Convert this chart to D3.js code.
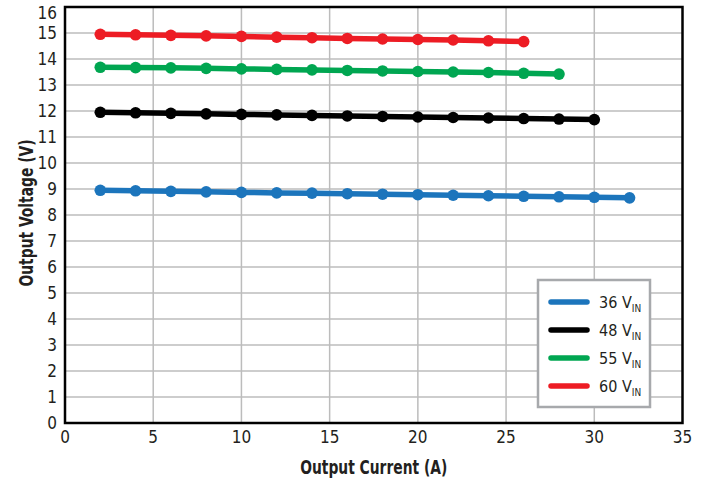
<!DOCTYPE html>
<html>
<head>
<meta charset="utf-8">
<script src="https://cdn.jsdelivr.net/npm/d3@7"></script>
<style>
  html, body { margin: 0; padding: 0; background: #fff; }
  svg text { font-family: "Liberation Sans Narrow", "DejaVu Sans Condensed", sans-serif; fill: #231f20; }
</style>
</head>
<body>
<div id="chart"></div>
<script>
// data
const current36 = [2, 4, 6, 8, 10, 12, 14, 16, 18, 20, 22, 24, 26, 28, 30, 32];
const volt36 = [8.95, 8.93, 8.91, 8.89, 8.87, 8.85, 8.84, 8.82, 8.80, 8.78, 8.76, 8.74, 8.72, 8.70, 8.68, 8.66];
const current48 = [2, 4, 6, 8, 10, 12, 14, 16, 18, 20, 22, 24, 26, 28, 30];
const volt48 = [11.95, 11.93, 11.91, 11.89, 11.87, 11.85, 11.83, 11.81, 11.79, 11.77, 11.75, 11.73, 11.71, 11.69, 11.67];
const current55 = [2, 4, 6, 8, 10, 12, 14, 16, 18, 20, 22, 24, 26, 28];
const volt55 = [13.68, 13.67, 13.66, 13.64, 13.62, 13.60, 13.58, 13.56, 13.54, 13.52, 13.50, 13.48, 13.45, 13.42];
const current60 = [2, 4, 6, 8, 10, 12, 14, 16, 18, 20, 22, 24, 26];
const volt60 = [14.95, 14.93, 14.91, 14.89, 14.87, 14.84, 14.82, 14.79, 14.77, 14.75, 14.73, 14.70, 14.67];

const seriesNames = ["36", "48", "55", "60"];
const colors = ["#1c75bc", "#000000", "#00a651", "#ed1c24"];
const xTicks = [0, 5, 10, 15, 20, 25, 30, 35];
const yTicks = d3.range(0, 17);

const series = [
  { name: seriesNames[0], xs: current36, ys: volt36 },
  { name: seriesNames[1], xs: current48, ys: volt48 },
  { name: seriesNames[2], xs: current55, ys: volt55 },
  { name: seriesNames[3], xs: current60, ys: volt60 }
];

const width = 702, height = 478;
const margin = { left: 65, right: 20, top: 7, bottom: 55 };

const svg = d3.select("#chart").append("svg")
  .attr("width", width)
  .attr("height", height);

const x = d3.scaleLinear().domain([0, 35]).range([margin.left, width - margin.right + 0.5]);
const y = d3.scaleLinear().domain([0, 16]).range([height - margin.bottom, margin.top]);

// grid
const grid = svg.append("g").attr("stroke", "#bcbcbc").attr("stroke-width", 1.5);
grid.selectAll(".gx").data(xTicks.slice(1, -1)).enter().append("line")
  .attr("x1", d => x(d)).attr("x2", d => x(d))
  .attr("y1", y(0)).attr("y2", y(16));
grid.selectAll(".gy").data(yTicks.slice(1, -1)).enter().append("line")
  .attr("x1", x(0)).attr("x2", x(35))
  .attr("y1", d => y(d)).attr("y2", d => y(d));

// frame
svg.append("rect")
  .attr("x", x(0)).attr("y", y(16))
  .attr("width", x(35) - x(0)).attr("height", y(0) - y(16))
  .attr("fill", "none").attr("stroke", "#000").attr("stroke-width", 2.5);

// tick labels (top one pushed down so it isn't clipped)
svg.append("g").selectAll("text").data(yTicks).enter().append("text")
  .attr("x", x(0) - 8)
  .attr("y", d => Math.max(y(d) + 6, 19))
  .attr("text-anchor", "end")
  .style("font-size", "17px")
  .text(d => d);

svg.append("g").selectAll("text").data(xTicks).enter().append("text")
  .attr("x", d => x(d))
  .attr("y", y(0) + 20)
  .attr("text-anchor", "middle")
  .style("font-size", "17px")
  .text(d => d);

// axis titles
svg.append("text")
  .attr("x", (x(0) + x(35)) / 2)
  .attr("y", 474)
  .attr("text-anchor", "middle")
  .attr("textLength", 147)
  .attr("lengthAdjust", "spacingAndGlyphs")
  .style("font-size", "20px")
  .style("font-weight", "bold")
  .text("Output Current (A)");

svg.append("text")
  .attr("transform", `translate(33, ${(y(0) + y(16)) / 2 - 2}) rotate(-90)`)
  .attr("text-anchor", "middle")
  .attr("textLength", 147)
  .attr("lengthAdjust", "spacingAndGlyphs")
  .style("font-size", "20px")
  .style("font-weight", "bold")
  .text("Output Voltage (V)");

// lines + markers
const line = d3.line().x(d => x(d[0])).y(d => y(d[1]));

series.forEach((s, i) => {
  const pts = s.xs.map((v, j) => [v, s.ys[j]]);
  const g = svg.append("g");
  g.append("path")
    .datum(pts)
    .attr("d", line)
    .attr("fill", "none")
    .attr("stroke", colors[i])
    .attr("stroke-width", 5.5)
    .attr("stroke-linejoin", "round");
  g.selectAll("circle").data(pts).enter().append("circle")
    .attr("cx", d => x(d[0]))
    .attr("cy", d => y(d[1]))
    .attr("r", 5.8)
    .attr("fill", colors[i]);
});

// legend
const legend = svg.append("g");
legend.append("rect")
  .attr("x", 538).attr("y", 280)
  .attr("width", 112).attr("height", 127)
  .attr("fill", "#fff")
  .attr("stroke", "#a7a9ac")
  .attr("stroke-width", 2.5);

seriesNames.forEach((n, i) => {
  const ly = 302 + i * 28;
  legend.append("line")
    .attr("x1", 551).attr("x2", 587)
    .attr("y1", ly).attr("y2", ly)
    .attr("stroke", colors[i])
    .attr("stroke-width", 5.5)
    .attr("stroke-linecap", "round");
  const t = legend.append("text")
    .attr("x", 599).attr("y", ly + 6)
    .style("font-size", "16px");
  t.append("tspan").text(n + " V");
  t.append("tspan").attr("dy", 4).style("font-size", "10px").text("IN");
});
</script>
</body>
</html>
